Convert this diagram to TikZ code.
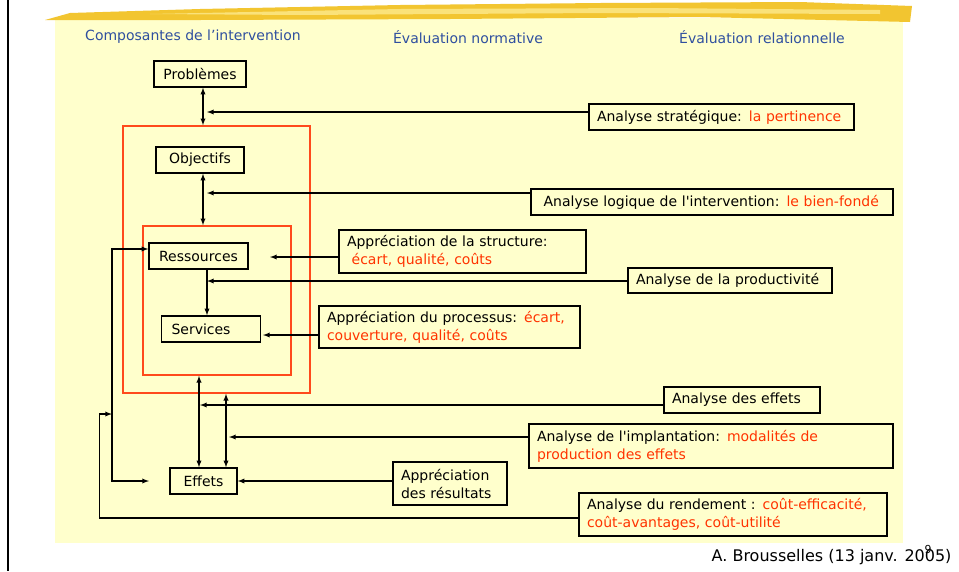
\documentclass[tikz,border=0pt]{standalone}
\usepackage{fontspec}
\setmainfont{DejaVu Sans}
\usetikzlibrary{arrows}

\definecolor{panel}{HTML}{FFFFCC}
\definecolor{brush}{HTML}{F2C530}
\definecolor{brushlight}{HTML}{FAE27A}
\definecolor{head}{HTML}{2F4F9F}
\definecolor{accent}{HTML}{FF3300}
\definecolor{frame}{HTML}{FF4A1C}
\newcommand{\rd}[1]{\textcolor{accent}{#1}}

\tikzset{
  >=latex,
  conn/.style={line width=1.3pt},
  comp/.style={draw, line width=1.4pt, fill=panel, inner sep=0pt,
    font=\fontsize{14}{18}\selectfont},
  ana/.style={comp, align=left, inner xsep=8pt, inner ysep=2pt,
    text width=#1-16pt, minimum width=#1},
  redframe/.style={draw=frame, line width=1.6pt, inner sep=0pt},
  header/.style={text=head, font=\fontsize{14}{16}\selectfont}
}

\begin{document}
\begin{tikzpicture}[x=1pt,y=-1pt]
\useasboundingbox (0,0) rectangle (959,571);
\fill[white] (0,0) rectangle (959,571);
\fill[panel] (55,18) rectangle (903,543);
% brush stroke on top
\fill[brush] (45,20) -- (70,13) -- (200,9) -- (400,5) -- (600,3) -- (800,2)
  -- (912,6) -- (910,22) -- (700,17) -- (450,19) -- (200,20) -- cycle;
\fill[brushlight] (150,14) -- (400,9) -- (650,8) -- (880,10) -- (880,14)
  -- (600,13) -- (300,15) -- cycle;
\draw[line width=1.6pt] (8,0) -- (8,571);

% headers
\node[header] (hComp) at (193,37) {Composantes de l’intervention};
\node[header] (hNorm) at (468,37) {Évaluation normative};
\node[header] (hRel) at (762,37) {Évaluation relationnelle};

% frames
\node[redframe, minimum width=187, minimum height=267] (outer) at (216.5,259.5) {};
\node[redframe, minimum width=148, minimum height=149] (inner) at (217,300.5) {};

% components
\node[comp, minimum width=92, minimum height=26] (prob) at (200,74) {Problèmes};
\node[comp, minimum width=88, minimum height=26] (obj) at (200,160) {Objectifs};
\node[comp, minimum width=99, minimum height=26] (ress) at (198.5,256) {Ressources};
\node[comp, align=left, inner xsep=10pt, text width=79pt, minimum height=26]
  (serv) at (211,329) {Services};
\node[comp, minimum width=67, minimum height=26] (eff) at (203.5,481) {Effets};

% evaluations
\node[ana=265, minimum height=26] (strat) at (721.5,117)
  {Analyse stratégique: \rd{la pertinence}};
\node[ana=362, minimum height=26] (logi) at (712,202)
  {\ Analyse logique de l\textquotesingle intervention: \rd{le bien-fondé}};
\node[ana=247, minimum height=43] (struc) at (462.5,251.5)
  {Appréciation de la structure:\\ \rd{\ écart, qualité, coûts}};
\node[ana=204, minimum height=25] (prod) at (730,280.5)
  {Analyse de la productivité};
\node[ana=261, minimum height=42] (proc) at (449.5,327)
  {Appréciation du processus: \rd{écart,}\\ \rd{couverture, qualité, coûts}};
\node[ana=156, minimum height=26] (effa) at (742,400)
  {Analyse des effets};
\node[ana=364, minimum height=44] (impl) at (711,446)
  {Analyse de l\textquotesingle implantation: \rd{modalités de}\\ \rd{production des effets}};
\node[ana=114, minimum height=43] (resu) at (450,483.5)
  {Appréciation\\ des résultats};
\node[ana=308, minimum height=43] (rend) at (733,514.5)
  {Analyse du rendement : \rd{coût-efficacité,}\\ \rd{coût-avantages, coût-utilité}};

% arrow tips
\coordinate (tStrat) at (207,112);
\coordinate (tLogi) at (207,193);
\coordinate (tStruc) at (270,257);
\coordinate (tProd) at (207,281);
\coordinate (tProc) at (263,335);
\coordinate (tEffa) at (200,405);
\coordinate (tImpl) at (229,437);
\coordinate (tLoop) at (149,481);
\coordinate (tRend) at (112,414);

% vertical chain
\draw[conn, <->] ([xshift=3pt]prob.south) -- ([xshift=3pt]prob.south |- outer.north);
\draw[conn, <->] ([xshift=3pt]obj.south) -- ([xshift=3pt]obj.south |- inner.north);
\draw[conn, ->] ([xshift=8.5pt]ress.south) -- ([xshift=8.5pt]ress.south |- serv.north);
\draw[conn, <->] ([xshift=-4.5pt]eff.north) -- ([xshift=-4.5pt]eff.north |- inner.south);
\draw[conn, <->] ([xshift=22.5pt]eff.north) -- ([xshift=22.5pt]eff.north |- outer.south);

% evaluations to components
\draw[conn, ->] (strat.west |- tStrat) -- (tStrat);
\draw[conn, ->] (logi.west |- tLogi) -- (tLogi);
\draw[conn, ->] (struc.west |- tStruc) -- (tStruc);
\draw[conn, ->] (prod.west |- tProd) -- (tProd);
\draw[conn, ->] (proc.west |- tProc) -- (tProc);
\draw[conn, ->] (effa.west |- tEffa) -- (tEffa);
\draw[conn, ->] (impl.west |- tImpl) -- (tImpl);
\draw[conn, ->] (resu.west |- eff.east) -- (eff.east);

% loops on the left
\draw[conn, <->] (tLoop) -- ++(-37,0) |- ([yshift=7pt]ress.west);
\draw[conn, ->] ([yshift=-3.5pt]rend.west) -- ++(-479,0) |- (tRend);

% footer
\node[anchor=east, font=\fontsize{16}{18}\selectfont] (foot) at (955,557)
  {A. Brousselles (13 janv. 2005)};
\node[font=\fontsize{11}{12}\selectfont] (page) at (928,549) {9};
\end{tikzpicture}
\end{document}
